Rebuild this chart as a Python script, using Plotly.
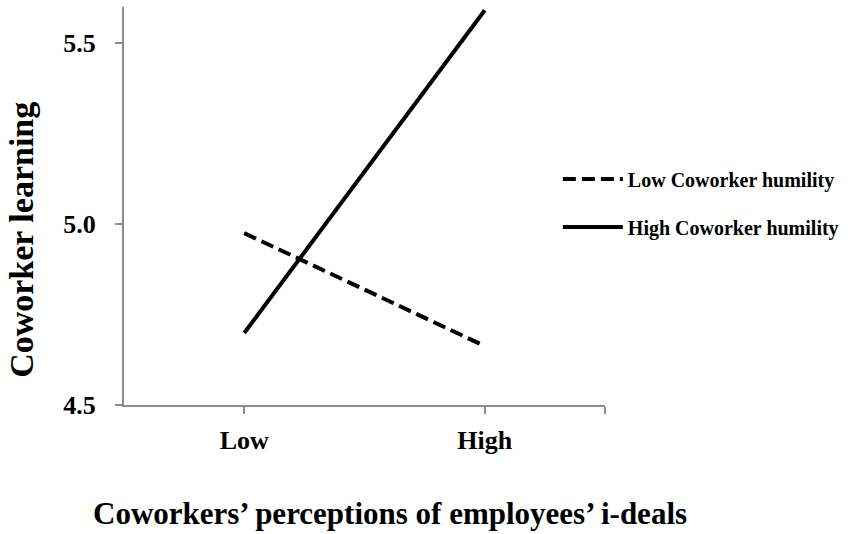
import plotly.graph_objects as go

categories = ["Low", "High"]
x_pos = [0, 1]
low_humility = [4.975, 4.663]
high_humility = [4.699, 5.591]
series_names = ["Low Coworker humility", "High Coworker humility"]
y_ticks = [4.5, 5.0, 5.5]
y_ticktext = ["4.5", "5.0", "5.5"]

FONT = "Liberation Serif"

fig = go.Figure()
fig.add_trace(go.Scatter(
    x=x_pos, y=low_humility, mode="lines", name=series_names[0],
    legendgroup="a",
    line=dict(color="black", width=4, dash="13px,6px"),
))
fig.add_trace(go.Scatter(
    x=x_pos, y=high_humility, mode="lines", name=series_names[1],
    legendgroup="b",
    line=dict(color="black", width=4),
))

fig.update_layout(
    width=851, height=534,
    margin=dict(l=124, r=243, t=7, b=129),
    plot_bgcolor="white", paper_bgcolor="white",
    font=dict(family=FONT, color="black"),
    showlegend=True,
    legend=dict(
        x=0.902, xanchor="left", y=0.617, yanchor="top",
        font=dict(family=FONT, size=20, color="black", weight="bold"),
        tracegroupgap=19, itemwidth=60,
        bgcolor="rgba(0,0,0,0)",
    ),
    xaxis=dict(
        range=[-0.5, 1.5],
        tickvals=[0, 1, 1.5], ticktext=categories + [""],
        showline=True, linecolor="#8c8c8c", linewidth=2,
        ticks="outside", ticklen=7, tickcolor="#8c8c8c", tickwidth=1.5,
        showgrid=False, zeroline=False,
        ticklabelstandoff=4,
        tickfont=dict(family=FONT, size=26, color="black", weight="bold"),
    ),
    yaxis=dict(
        range=[4.5, 5.6],
        tickvals=y_ticks, ticktext=y_ticktext,
        showline=True, linecolor="#8c8c8c", linewidth=2,
        ticks="outside", ticklen=7, tickcolor="#8c8c8c", tickwidth=1.5,
        showgrid=False, zeroline=False,
        ticklabelstandoff=14,
        tickfont=dict(family=FONT, size=26, color="black", weight="bold"),
    ),
    annotations=[
        dict(text="Coworker learning", xref="paper", yref="paper",
             x=0, y=0.415, xshift=-102, xanchor="center", yanchor="middle",
             textangle=-90, showarrow=False,
             font=dict(family=FONT, size=34, color="black", weight="bold")),
        dict(text="Coworkers’ perceptions of employees’ i-deals", xref="paper", yref="paper",
             x=0.552, y=0, yshift=-108, xanchor="center", yanchor="middle",
             showarrow=False,
             font=dict(family=FONT, size=31, color="black", weight="bold")),
    ],
)

fig.write_html("out.html", config={"displayModeBar": False},
               post_script="document.body.style.margin='0';")
